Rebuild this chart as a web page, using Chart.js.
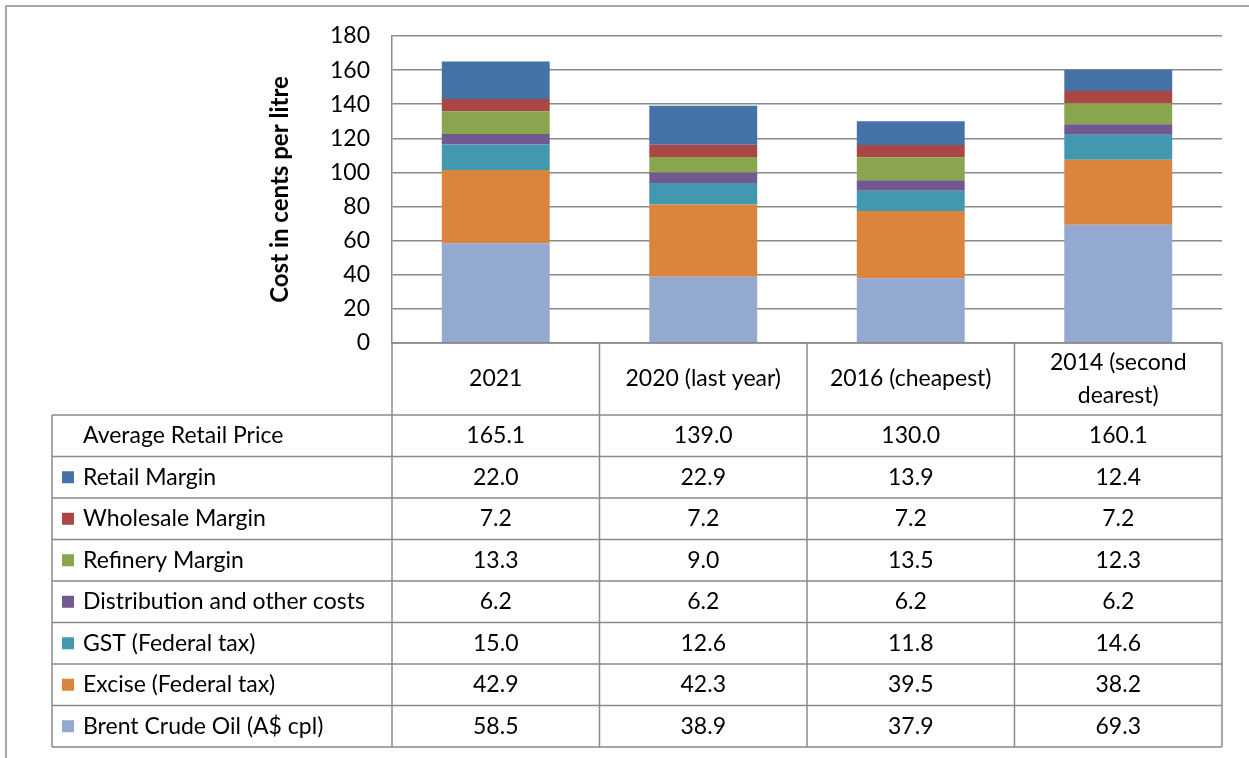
<!DOCTYPE html>
<html>
<head>
<meta charset="utf-8">
<script src="https://cdn.jsdelivr.net/npm/chart.js@4.4.1/dist/chart.umd.min.js"></script>
<style>
  html, body { margin: 0; padding: 0; background: #fff; }
  #wrap { width: 1249px; height: 758px; position: relative; }
</style>
</head>
<body>
<div id="wrap"><canvas id="fuel-chart"></canvas></div>
<script>
// categories (wrapped as they appear in the table header)
const categories = [['2021'], ['2020 (last year)'], ['2016 (cheapest)'], ['2014 (second', 'dearest)']];

// cents per litre
const avgRetailPrice = [165.1, 139.0, 130.0, 160.1];
const retailMargin = [22.0, 22.9, 13.9, 12.4];
const wholesaleMargin = [7.2, 7.2, 7.2, 7.2];
const refineryMargin = [13.3, 9.0, 13.5, 12.3];
const distributionCosts = [6.2, 6.2, 6.2, 6.2];
const gstTax = [15.0, 12.6, 11.8, 14.6];
const exciseTax = [42.9, 42.3, 39.5, 38.2];
const brentCrude = [58.5, 38.9, 37.9, 69.3];

const yMin = 0;
const yMax = 180;
const yStep = 20;

const FONT = 'Lato, "Open Sans", sans-serif';

// bottom of the stack first
const series = [
    { label: 'Brent Crude Oil (A$ cpl)', data: brentCrude, color: '#93A9CF' },
    { label: 'Excise (Federal tax)', data: exciseTax, color: '#DB843D' },
    { label: 'GST (Federal tax)', data: gstTax, color: '#4198AF' },
    { label: 'Distribution and other costs', data: distributionCosts, color: '#71588F' },
    { label: 'Refinery Margin', data: refineryMargin, color: '#89A54E' },
    { label: 'Wholesale Margin', data: wholesaleMargin, color: '#AA4643' },
    { label: 'Retail Margin', data: retailMargin, color: '#4572A7' }
];

const lineColor = '#8a8a8a';

// draws the outer frame and the data table under the plot
const dataTable = {
    id: 'dataTable',
    afterDraw(chart) {
        const ctx = chart.ctx;
        const area = chart.chartArea;
        const xs = chart.scales.x;
        const colW = xs.getPixelForValue(1) - xs.getPixelForValue(0);
        const headTop = area.bottom;
        const headBottom = 415;
        const tableBottom = 747;
        const labelLeft = 52;
        const rows = [{ label: 'Average Retail Price', data: avgRetailPrice, color: null }]
            .concat(series.slice().reverse());
        const rowH = (tableBottom - headBottom) / rows.length;

        ctx.save();
        ctx.strokeStyle = lineColor;
        ctx.lineWidth = 1.5;

        // chart frame (left and top)
        ctx.beginPath();
        ctx.moveTo(6, 758);
        ctx.lineTo(6, 6);
        ctx.lineTo(1249, 6);
        ctx.stroke();

        ctx.beginPath();
        for (let j = 0; j <= categories.length; j++) {
            const x = area.left + j * colW;
            ctx.moveTo(x, headTop);
            ctx.lineTo(x, tableBottom);
        }
        ctx.moveTo(area.left, headTop);
        ctx.lineTo(area.right, headTop);
        for (let i = 0; i <= rows.length; i++) {
            const y = headBottom + i * rowH;
            ctx.moveTo(labelLeft, y);
            ctx.lineTo(area.right, y);
        }
        ctx.moveTo(labelLeft, headBottom);
        ctx.lineTo(labelLeft, tableBottom);
        ctx.stroke();

        ctx.fillStyle = '#000';
        ctx.font = '23px ' + FONT;
        ctx.textBaseline = 'middle';

        // header row
        ctx.textAlign = 'center';
        const headMid = (headTop + headBottom) / 2;
        categories.forEach(function(lines, j) {
            const cx = area.left + (j + 0.5) * colW;
            const lh = 33;
            lines.forEach(function(t, k) {
                ctx.fillText(t, cx, headMid + (k - (lines.length - 1) / 2) * lh);
            });
        });

        // body rows
        rows.forEach(function(row, i) {
            const cy = headBottom + (i + 0.5) * rowH;
            if (row.color) {
                ctx.fillStyle = row.color;
                ctx.fillRect(62, cy - 6, 12, 12);
            }
            ctx.fillStyle = '#000';
            ctx.textAlign = 'left';
            ctx.fillText(row.label, 83, cy);
            ctx.textAlign = 'center';
            row.data.forEach(function(v, j) {
                ctx.fillText(v.toFixed(1), area.left + (j + 0.5) * colW, cy);
            });
        });
        ctx.restore();
    }
};

const ctx = document.getElementById('fuel-chart').getContext('2d');
new Chart(ctx, {
    type: 'bar',
    data: {
        labels: categories,
        datasets: series.map(function(s) {
            return {
                label: s.label,
                data: s.data,
                backgroundColor: s.color,
                borderWidth: 0,
                barPercentage: 0.52,
                categoryPercentage: 1.0
            };
        })
    },
    options: {
        responsive: true,
        maintainAspectRatio: false,
        animation: false,
        layout: {
            padding: { left: 256, top: 36, right: 27, bottom: 415 }
        },
        plugins: {
            legend: { display: false },
            tooltip: { enabled: false }
        },
        scales: {
            x: {
                stacked: true,
                display: false
            },
            y: {
                stacked: true,
                min: yMin,
                max: yMax,
                afterFit: function(scale) { scale.width = 136; },
                ticks: {
                    stepSize: yStep,
                    color: '#000',
                    padding: 22,
                    font: { family: FONT, size: 23 }
                },
                grid: {
                    color: lineColor,
                    lineWidth: 1.5,
                    drawTicks: false
                },
                border: { display: true, color: lineColor, width: 1.5 },
                title: {
                    display: true,
                    text: 'Cost in cents per litre',
                    color: '#000',
                    font: { family: FONT, size: 24, weight: 'bold' },
                    padding: { top: 10, bottom: 0 }
                }
            }
        }
    },
    plugins: [dataTable]
});
</script>
</body>
</html>
